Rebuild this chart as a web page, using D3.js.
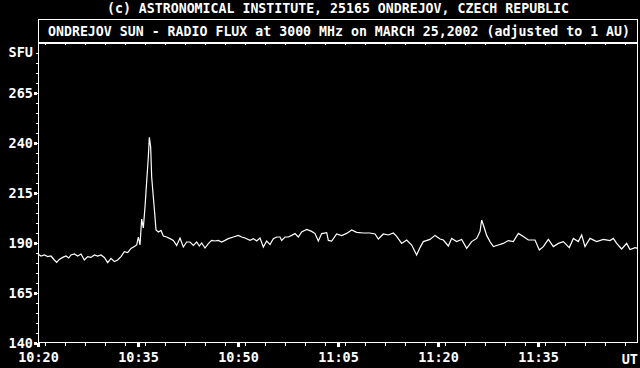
<!DOCTYPE html>
<html>
<head>
<meta charset="utf-8">
<script src="https://cdn.jsdelivr.net/npm/d3@7"></script>
<style>
  body { margin: 0; background: #000; }
  svg text { font-family: "DejaVu Sans Mono", monospace; font-weight: bold; fill: #fff; }
</style>
</head>
<body>
<div id="chart"></div>
<script>
// flux readings, Ondrejov 3000 MHz, 25 March 2002
const times = [
  "10:20:00","10:20:27","10:20:57","10:21:27","10:21:57","10:22:27","10:22:48","10:23:12",
  "10:23:42","10:24:12","10:24:36","10:24:57","10:25:27","10:25:57","10:26:27","10:26:57",
  "10:27:27","10:27:57","10:28:27","10:28:57","10:29:27","10:29:57","10:30:27","10:30:57",
  "10:31:27","10:31:57","10:32:27","10:32:57","10:33:27","10:33:57","10:34:27",
  "10:34:48","10:35:03","10:35:18","10:35:33","10:35:48","10:36:03","10:36:18","10:36:33",
  "10:36:42","10:36:54","10:37:03","10:37:18","10:37:33","10:37:42",
  "10:38:03","10:38:27","10:38:48","10:39:18","10:39:48","10:40:18","10:40:48","10:41:18",
  "10:41:48","10:42:18","10:42:48","10:43:18","10:43:48","10:44:12","10:44:33","10:45:03",
  "10:45:33","10:46:03","10:46:33","10:47:03","10:47:33","10:48:03","10:48:33","10:49:18",
  "10:50:03","10:50:33","10:51:03","10:51:48","10:52:18","10:52:48","10:53:18","10:53:48",
  "10:54:18","10:54:48","10:55:18","10:55:48","10:56:18","10:56:33","10:57:03","10:57:33",
  "10:58:03","10:58:33","10:59:03","10:59:33","11:00:18","11:01:03","11:01:33","11:02:03",
  "11:02:33","11:03:18","11:03:33","11:04:03",
  "11:04:48","11:05:33","11:06:18","11:07:03","11:07:48","11:08:48","11:09:48","11:10:33",
  "11:11:03","11:11:48","11:12:33","11:13:18","11:13:48","11:14:33","11:15:18","11:16:03",
  "11:16:48","11:17:18","11:17:48","11:18:48","11:19:33","11:20:18","11:20:48","11:21:33",
  "11:22:03","11:22:48","11:23:33","11:24:18","11:25:03","11:25:48","11:26:18","11:26:33",
  "11:26:54","11:27:18","11:27:48","11:28:18","11:29:03","11:29:48","11:30:33","11:31:18",
  "11:32:03","11:32:48","11:33:33","11:34:33","11:35:12","11:35:48","11:36:33","11:37:18",
  "11:38:03","11:38:48","11:39:42","11:40:18","11:41:03","11:41:33","11:42:03","11:42:48",
  "11:43:48","11:44:48","11:45:48","11:46:18","11:46:48","11:47:33","11:48:18","11:48:48",
  "11:49:33","11:50:00"
];
const flux = [
  184.5, 183.5, 184, 183.2, 183.5, 181.5, 180.3, 181.8,
  182.8, 183.5, 182.5, 184, 184.5, 183.5, 184.5, 181.5,
  183.2, 182.8, 184, 183.5, 184, 182.8, 180.2, 182.3,
  180.7, 181.5, 183.2, 185.7, 185.2, 187.3, 188.2,
  189, 193, 189, 202, 197.5, 208, 220.7, 233,
  242.8, 238, 223, 213, 203, 196.5,
  195.5, 196.3, 193.5, 193, 192.2, 191.3, 188.8, 192.5,
  188, 190.5, 190.5, 188.8, 190.5, 188.5, 190, 187.5,
  189.7, 191.3, 191, 191.3, 190.5, 191.3, 192.2, 193,
  193.8, 193, 192.5, 191.3, 192.2, 191, 192.5, 188,
  191, 189.2, 192.2, 193, 193, 191.3, 193, 193,
  193.8, 194.7, 193, 195.5, 196.8, 195.8, 194.7, 191,
  194.7, 195.2, 191.3, 191,
  194.5, 193.7, 194.8, 196.5, 195.3, 195, 195, 194.5,
  192, 194.5, 194, 195, 193.3, 189.8, 191.5, 189,
  184, 187.7, 190.7, 191.8, 193.8, 192, 191.5, 188.5,
  192.3, 190.7, 191.8, 187.3, 190.7, 192.3, 195.7, 201.5,
  198, 193.8, 190.7, 188.2, 189, 189.8, 191.2, 190.7,
  194.8, 193.2, 191.5, 191.5, 186.5, 188.2, 191.8, 188.2,
  189.8, 190.7, 187.7, 192.3, 190.7, 194, 188.2, 192.3,
  190.7, 191.8, 191.2, 192.3, 189.8, 187, 189.8, 186.7,
  187.7, 187.3
];
const yTicks = [140, 165, 190, 215, 240, 265];
const xTickLabels = ["10:20", "10:35", "10:50", "11:05", "11:20", "11:35"];
const header = "(c) ASTRONOMICAL INSTITUTE, 25165 ONDREJOV, CZECH REPUBLIC";
const title = "ONDREJOV SUN - RADIO FLUX at 3000 MHz on MARCH 25,2002 (adjusted to 1 AU)";

const W = 640, H = 368;
const margin = { top: 43, right: 2, bottom: 25, left: 38 };
const width = W - margin.left - margin.right,
  height = H - margin.top - margin.bottom;

const parseTime = d3.timeParse("%H:%M:%S");
const parseHM = d3.timeParse("%H:%M");
const data = times.map((t, i) => ({ t: parseTime(t), v: flux[i] }));

const x = d3.scaleTime()
  .domain([parseHM("10:20"), parseHM("11:50")])
  .range([0, width]);
const y = d3.scaleLinear()
  .domain([140, 290])
  .range([height, 0]);

const svg = d3.select("#chart")
  .append("svg")
  .attr("width", W)
  .attr("height", H)
  .style("background", "#000");

svg.append("text")
  .attr("x", 107)
  .attr("y", 13)
  .attr("textLength", 462)
  .attr("lengthAdjust", "spacingAndGlyphs")
  .style("font-size", "13.5px")
  .text(header);

// title box on top of the plot
svg.append("rect")
  .attr("x", margin.left + 0.5)
  .attr("y", 19.5)
  .attr("width", width - 1)
  .attr("height", margin.top - 20)
  .attr("fill", "none")
  .attr("stroke", "#fff")
  .attr("shape-rendering", "crispEdges");

svg.append("text")
  .attr("x", 48)
  .attr("y", 36)
  .attr("textLength", 582)
  .attr("lengthAdjust", "spacingAndGlyphs")
  .style("font-size", "13.5px")
  .text(title);

const g = svg.append("g")
  .attr("transform", `translate(${margin.left}, ${margin.top})`);

// frame
g.append("rect")
  .attr("x", 0.5)
  .attr("y", 0.5)
  .attr("width", width - 1)
  .attr("height", height - 1)
  .attr("fill", "none")
  .attr("stroke", "#fff")
  .attr("shape-rendering", "crispEdges");

const minorX = d3.timeMinute.every(3).range(x.domain()[0], x.domain()[1]);
const majorX = xTickLabels.map(parseHM);
const minorY = d3.range(145, 290, 5);

function tidy(sel) {
  sel.select(".domain").remove();
  sel.selectAll("line").attr("stroke", "#fff").attr("shape-rendering", "crispEdges");
  sel.selectAll("text").remove();
}

function labelStyle(ax) {
  ax.select(".domain").remove();
  ax.selectAll("text")
    .attr("fill", "#fff")
    .style("font-size", "13.5px")
    .style("font-family", "DejaVu Sans Mono, monospace")
    .style("font-weight", "bold");
}

// x minor ticks, bottom and top
g.append("g")
  .attr("transform", `translate(0, ${height})`)
  .call(d3.axisBottom(x).tickValues(minorX).tickSize(3))
  .call(tidy);
g.append("g")
  .call(d3.axisBottom(x).tickValues(minorX).tickSize(2))
  .call(tidy);

// x major ticks as small blocks
g.append("g")
  .attr("transform", `translate(0, ${height})`)
  .call(d3.axisBottom(x).tickValues(majorX).tickSize(4))
  .call(tidy)
  .selectAll("line").attr("stroke-width", 3);

// x labels
g.append("g")
  .attr("transform", `translate(0, ${height})`)
  .call(d3.axisBottom(x).tickValues(majorX).tickSize(0).tickPadding(9)
    .tickFormat(d3.timeFormat("%H:%M")))
  .call(labelStyle);

g.append("text")
  .attr("x", width)
  .attr("y", height + 21)
  .attr("text-anchor", "end")
  .style("font-size", "13.5px")
  .text("UT");

// y minor ticks
g.append("g")
  .call(d3.axisLeft(y).tickValues(minorY).tickSize(2))
  .call(tidy);

// y major ticks as blocks
g.append("g")
  .attr("transform", "translate(-1, 0)")
  .call(d3.axisLeft(y).tickValues(yTicks).tickSize(3))
  .call(tidy)
  .selectAll("line").attr("stroke-width", 3);

// y labels
g.append("g")
  .call(d3.axisLeft(y).tickValues(yTicks).tickSize(0).tickPadding(5))
  .call(labelStyle);

g.append("text")
  .attr("x", -5)
  .attr("y", y(285))
  .attr("dy", "0.32em")
  .attr("text-anchor", "end")
  .style("font-size", "13.5px")
  .text("SFU");

// flux curve
const line = d3.line()
  .x(d => x(d.t))
  .y(d => y(d.v));

g.append("path")
  .datum(data)
  .attr("d", line)
  .attr("fill", "none")
  .attr("stroke", "#fff")
  .attr("stroke-width", 1.2);
</script>
</body>
</html>
